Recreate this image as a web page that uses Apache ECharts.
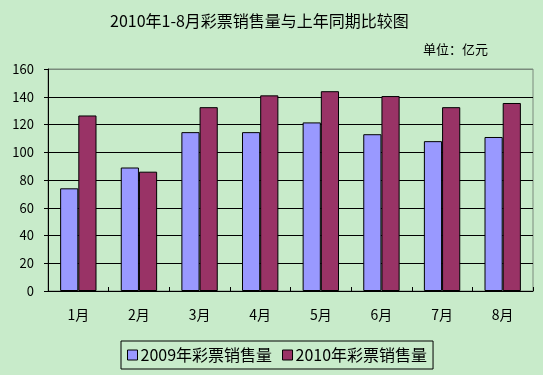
<!DOCTYPE html>
<html><head><meta charset="utf-8">
<script src="https://cdn.jsdelivr.net/npm/echarts@6/dist/echarts.min.js"></script>
<style>html,body{margin:0;padding:0;background:#C8EBCA;}#c{width:543px;height:375px;}</style>
</head><body><div id="c"></div>
<script>
const categories = ['1月','2月','3月','4月','5月','6月','7月','8月'];
const sales2009 = [74, 89, 114.5, 114.5, 121.5, 113, 108, 111];
const sales2010 = [126.5, 86, 132.5, 141, 144, 140.5, 132.5, 135.5];
const seriesNames = ['2009年彩票销售量','2010年彩票销售量'];
const titleText = '2010年1-8月彩票销售量与上年同期比较图';
const unitText = '单位：亿元';

const font = '"Noto Sans CJK SC", sans-serif';
const chart = echarts.init(document.getElementById('c'));
chart.setOption({
  backgroundColor: '#C8EBCA',
  animation: false,
  textStyle: {fontFamily: font},
  title: [
    {text: titleText, left: 110, top: 13, padding: 0, textStyle: {fontSize: 16, fontWeight: 'normal', color: '#000', fontFamily: font}},
    {text: unitText, left: 423, top: 43, padding: 0, textStyle: {fontSize: 13, fontWeight: 'normal', color: '#000', fontFamily: font}}
  ],
  legend: {
    data: seriesNames,
    left: 121, top: 341,
    icon: 'rect', itemWidth: 10, itemHeight: 10, itemGap: 10,
    borderColor: '#000', borderWidth: 1, borderRadius: 0,
    padding: [6, 6, 6, 6],
    textStyle: {fontSize: 16, color: '#000', fontFamily: font, padding: [0, 0, 0, -2]},
    itemStyle: {borderColor: '#000', borderWidth: 1}
  },
  grid: {left: 48, right: 10, top: 69, bottom: 84, show: true, borderColor: '#7a8a7c', borderWidth: 1},
  xAxis: {
    type: 'category', data: categories,
    axisLine: {lineStyle: {color: '#000', width: 1}},
    axisTick: {show: true, inside: true, length: 4, lineStyle: {color: '#000'}},
    axisLabel: {color: '#000', fontSize: 14, margin: 17, fontFamily: font}
  },
  yAxis: {
    type: 'value', min: 0, max: 160, interval: 20,
    axisLine: {show: true, lineStyle: {color: '#000', width: 1}},
    axisTick: {show: true, length: 4, lineStyle: {color: '#000'}},
    axisLabel: {color: '#000', fontSize: 13, margin: 14, fontFamily: font},
    splitLine: {show: true, lineStyle: {color: ['#000','#000','#000','#000','#000','#000','#000','#000','#7a8a7c'], width: 1}}
  },
  series: [
    {name: seriesNames[0], type: 'bar', data: sales2009, barGap: '0%', barCategoryGap: '40%',
     itemStyle: {color: '#9999FF', borderColor: '#000', borderWidth: 1}},
    {name: seriesNames[1], type: 'bar', data: sales2010, barGap: '0%', barCategoryGap: '40%',
     itemStyle: {color: '#993366', borderColor: '#000', borderWidth: 1}}
  ]
});
</script></body></html>
